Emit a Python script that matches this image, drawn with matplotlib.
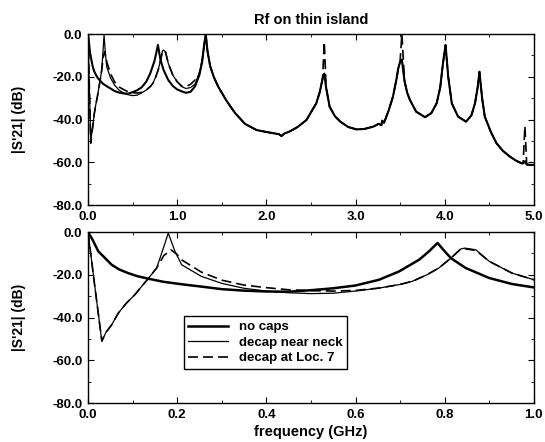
import matplotlib
matplotlib.use("Agg")
import matplotlib.pyplot as plt
from matplotlib.ticker import MultipleLocator, FormatStrFormatter

plt.rcParams['font.family'] = ['Liberation Sans', 'DejaVu Sans']

# ---------------- data (GHz, dB) ----------------
# "no caps" below the shared high-frequency part
nocap_f = [0.0, 0.01, 0.023, 0.035, 0.053, 0.07, 0.09, 0.11, 0.135, 0.17, 0.217, 0.25,
           0.3, 0.35, 0.4, 0.45, 0.5, 0.55, 0.6, 0.653, 0.698, 0.743, 0.765, 0.784,
           0.8, 0.814, 0.847, 0.9, 0.951, 1.0, 1.05, 1.1, 1.15, 1.2, 1.25, 1.28, 1.3]
nocap_db = [0.0, -3.5, -9.0, -11.5, -15.3, -17.5, -19.2, -20.6, -21.8, -23.3, -24.6, -25.4,
            -26.7, -27.4, -27.8, -27.9, -27.2, -26.3, -25.0, -22.3, -18.4, -12.9, -9.0, -5.1,
            -9.0, -12.2, -16.8, -21.5, -24.3, -25.9, -26.8, -27.5, -27.0, -24.5, -19.0, -13.0, -6.0]

# "decap near neck" below the shared part
neck_f = [0.0, 0.015, 0.031, 0.04, 0.053, 0.068, 0.085, 0.105, 0.12, 0.135, 0.154, 0.165,
          0.18, 0.195, 0.21, 0.254, 0.3, 0.35, 0.4, 0.45, 0.5, 0.55, 0.6, 0.653, 0.7,
          0.728, 0.76, 0.787, 0.814, 0.835, 0.845, 0.87, 0.9, 0.951, 1.0, 1.05, 1.1,
          1.15, 1.2, 1.25, 1.28, 1.3]
neck_db = [0.0, -25.0, -51.0, -47.0, -43.4, -37.9, -33.5, -29.3, -25.5, -21.8, -16.8, -10.0,
           -0.5, -9.0, -15.3, -20.7, -24.0, -26.3, -27.6, -28.4, -28.8, -28.6, -27.6, -26.2, -24.5,
           -23.0, -20.0, -16.8, -12.2, -8.0, -7.5, -8.3, -13.7, -19.2, -22.3, -24.6, -25.5,
           -25.0, -23.5, -18.0, -12.5, -6.0]

# "decap at Loc. 7" below the shared part
loc7_f = [0.0, 0.015, 0.031, 0.04, 0.053, 0.068, 0.085, 0.105, 0.12, 0.135, 0.154, 0.17,
          0.186, 0.2, 0.21, 0.254, 0.3, 0.35, 0.4, 0.45, 0.5, 0.55, 0.6, 0.653, 0.7,
          0.728, 0.76, 0.787, 0.814, 0.835, 0.845, 0.87, 0.9, 0.951, 1.0, 1.05, 1.1,
          1.15, 1.2, 1.22, 1.25, 1.28, 1.3]
loc7_db = [0.0, -25.0, -51.0, -47.0, -43.4, -37.9, -33.5, -29.3, -25.5, -21.8, -16.8, -11.0,
           -8.3, -10.5, -13.0, -18.7, -22.5, -24.8, -26.0, -27.0, -27.4, -27.6, -27.3, -26.2, -24.5,
           -23.0, -20.0, -16.8, -12.2, -8.2, -7.8, -8.6, -13.7, -19.2, -22.3, -24.3, -24.5,
           -23.5, -21.5, -22.5, -18.0, -12.5, -6.0]

# part common to all three curves above 1.3 GHz
shared_f = [1.32, 1.34, 1.37, 1.41, 1.46, 1.55, 1.65, 1.76, 1.89, 2.0, 2.08, 2.14, 2.17,
            2.2, 2.26, 2.35, 2.45, 2.56, 2.6, 2.63, 2.65, 2.67, 2.71, 2.77, 2.83, 2.92,
            3.01, 3.1, 3.2, 3.26, 3.29, 3.3, 3.32, 3.37, 3.42, 3.46, 3.48, 3.5, 3.52,
            3.55, 3.58, 3.61, 3.68, 3.78, 3.85, 3.91, 3.95, 3.98, 4.01, 4.04, 4.08, 4.15,
            4.24, 4.3, 4.34, 4.37, 4.39, 4.42, 4.45, 4.52, 4.58, 4.65, 4.73, 4.8, 4.86,
            4.88, 4.9, 4.92, 4.96, 5.0]
shared_db = [0.0, -8.0, -15.0, -20.0, -24.6, -31.0, -37.0, -42.0, -44.9, -45.8, -46.4, -46.8, -47.7,
             -46.6, -45.6, -43.5, -40.2, -32.4, -27.0, -21.0, -18.5, -25.0, -34.0, -38.5, -41.0, -43.5,
             -44.6, -44.4, -43.3, -42.0, -42.6, -40.5, -41.5, -36.0, -29.3, -21.0, -16.0, -13.0, -12.0,
             -22.0, -27.5, -30.8, -36.3, -38.9, -37.0, -32.4, -25.0, -14.0, -5.1, -20.0, -32.4, -38.6,
             -41.0, -38.0, -32.4, -25.0, -17.6, -30.0, -38.6, -46.0, -51.0, -54.5, -57.3, -59.2, -60.4,
             -60.5, -59.5, -61.0, -61.2, -61.2]

# spikes where "decap at Loc. 7" departs from the others
loc7_spike_f = [2.65, 3.52, 4.9]
loc7_spike_db = [-3.6, 0.0, -43.0]

labels = ["no caps", "decap near neck", "decap at Loc. 7"]
title = "Rf on thin island"
ylabel = "|S'21| (dB)"
xlabel = "frequency (GHz)"

# ---------------- assemble ----------------
nocap_F = nocap_f + shared_f
nocap_D = nocap_db + shared_db
neck_F = neck_f + shared_f
neck_D = neck_db + shared_db
spikes = dict(zip(loc7_spike_f, loc7_spike_db))
loc7_F = loc7_f + shared_f
loc7_D = loc7_db + [spikes.get(f, d) for f, d in zip(shared_f, shared_db)]

fig = plt.figure(figsize=(5.45, 4.42), dpi=100)
ax1 = fig.add_axes([0.1615, 0.536, 0.818, 0.387])
ax2 = fig.add_axes([0.1615, 0.088, 0.818, 0.387])

fs = 9.5
for ax, xmax, xmaj, xmin, wthick in [(ax1, 5.0, 1.0, 0.5, 1.5), (ax2, 1.0, 0.2, 0.1, 1.8)]:
    ax.plot(loc7_F, loc7_D, color='black', lw=1.2, dashes=(6, 3), label=labels[2], zorder=2)
    ax.plot(neck_F, neck_D, color='black', lw=0.9, label=labels[1], zorder=3)
    ax.plot(nocap_F, nocap_D, color='black', lw=wthick, label=labels[0], zorder=4)
    ax.set_xlim(0, xmax)
    ax.set_ylim(-80, 0)
    ax.xaxis.set_major_locator(MultipleLocator(xmaj))
    ax.xaxis.set_minor_locator(MultipleLocator(xmin))
    ax.yaxis.set_major_locator(MultipleLocator(20))
    ax.yaxis.set_minor_locator(MultipleLocator(10))
    ax.xaxis.set_major_formatter(FormatStrFormatter('%.1f'))
    ax.yaxis.set_major_formatter(FormatStrFormatter('%.1f'))
    ax.tick_params(which='both', direction='in', top=True, right=True, labelsize=fs)
    ax.tick_params(which='major', length=4, width=0.8, pad=4)
    ax.tick_params(which='minor', length=2, width=0.6)
    for lab in ax.get_xticklabels() + ax.get_yticklabels():
        lab.set_fontweight('bold')
    for s in ax.spines.values():
        s.set_linewidth(1.0)
    ax.set_ylabel(ylabel, fontsize=10, fontweight='bold', labelpad=19)

ax1.set_title(title, fontsize=10.5, fontweight='bold', pad=7)
ax2.set_xlabel(xlabel, fontsize=10.5, fontweight='bold', labelpad=3)

h, l = ax2.get_legend_handles_labels()
order = [2, 1, 0]
leg = ax2.legend([h[i] for i in order], [l[i] for i in order], loc='upper left',
                 bbox_to_anchor=(0.2, 0.545), fontsize=fs, frameon=True, fancybox=False,
                 edgecolor='black', framealpha=1, handlelength=3.0, borderpad=0.35,
                 labelspacing=0.25, handletextpad=0.8)
leg.get_frame().set_linewidth(1.0)
for t in leg.get_texts():
    t.set_fontweight('bold')

fig.savefig("out.png", dpi=100)
